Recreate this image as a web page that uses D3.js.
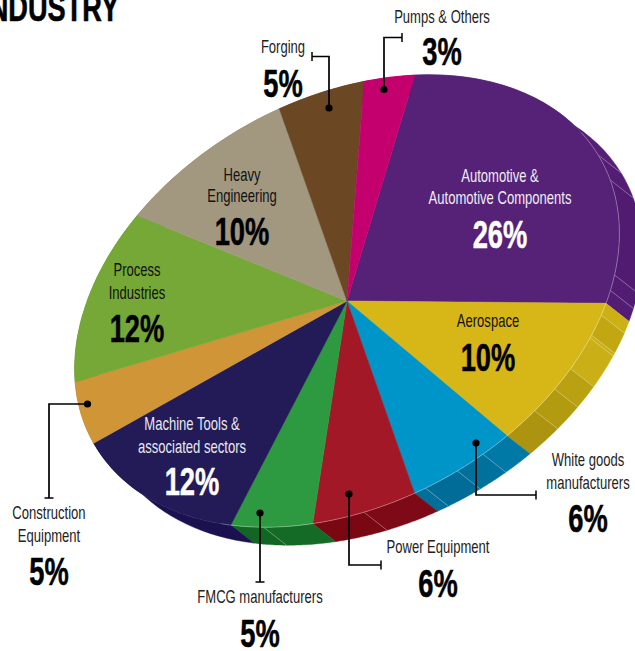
<!DOCTYPE html>
<html>
<head>
<meta charset="utf-8">
<script src="https://cdn.jsdelivr.net/npm/d3@7/dist/d3.min.js"></script>
<style>
html,body{margin:0;padding:0;background:#fff;overflow:hidden}
svg{display:block}
text{font-family:"Liberation Sans",Arial,sans-serif;text-anchor:middle}
</style>
</head>
<body>
<svg id="chart" width="635" height="651"></svg>
<script>
// Industry share of the market, clockwise from the top of the pie
const categories = ["Automotive","Aerospace","White goods","Power Equipment","FMCG","Machine Tools","Construction","Process","Heavy Engineering","Forging","Pumps"];
const shares = [26,10,6,6,5,12,5,12,10,5,3];
const valueLabels = shares.map(d => d + "%");
const faceColors = ["#562278","#d7b717","#0095c8","#a21826","#2d9a42","#221b57","#d09536","#76a837","#a29880","#6b4724","#c4006f"];

// Rim shading: rib positions as a fraction of each slice, and the band colours between them
const ribFractions = [[.564,.648,.923,.965],[.083,.225,.244,.467,.62,.79],[.28,.56,.89],[.5],[.59],[],[],[],[],[],[]];
const bandColors = [
  ["#551f76","#531d73","#511b71","#521c72","#531d73"],
  ["#ccb016","#c2a612","#cbaf16","#cbaf16","#b9a111","#b39b10","#ac9410"],
  ["#0079a6","#00719d","#006c97","#00709b"],
  ["#7f0a17","#790813"],
  ["#136b25","#116624"],
  ["#1c1150"],["#a87820"],["#5e8a2a"],["#857c66"],["#553a1c"],["#9c0058"]
];

// Text placement for each category
const labelLayout = [
  {i:0,x:500,lines:[["Automotive &",182],["Automotive Components",204]],pct:248,fill:"#f1ecf4",pctFill:"#fff"},
  {i:1,x:488,lines:[["Aerospace",327]],pct:371,fill:"#111",pctFill:"#000"},
  {i:2,x:588,lines:[["White goods",466],["manufacturers",489]],pct:532,fill:"#222",pctFill:"#000"},
  {i:3,x:438,lines:[["Power Equipment",553]],pct:597,fill:"#222",pctFill:"#000"},
  {i:4,x:260,lines:[["FMCG manufacturers",603]],pct:647,fill:"#222",pctFill:"#000"},
  {i:5,x:192,lines:[["Machine Tools &",430],["associated sectors",453]],pct:495,fill:"#e9e8f0",pctFill:"#fff"},
  {i:6,x:49,lines:[["Construction",519],["Equipment",542]],pct:585,fill:"#222",pctFill:"#000"},
  {i:7,x:137,lines:[["Process",276],["Industries",299]],pct:342,fill:"#111",pctFill:"#000"},
  {i:8,x:242,lines:[["Heavy",181],["Engineering",202]],pct:245,fill:"#111",pctFill:"#000"},
  {i:9,x:283,lines:[["Forging",53]],pct:97,fill:"#222",pctFill:"#000"},
  {i:10,x:442,lines:[["Pumps & Others",23]],pct:65,fill:"#222",pctFill:"#000"}
];

// Leader lines: dot, elbow path and the end cap direction
const leaders = [
  {pts:[[384,89.5],[384,37.5],[402,37.5]],cap:"v"},
  {pts:[[329,108],[329,56.5],[312,56.5]],cap:"v"},
  {pts:[[87.5,404],[49,404],[49,498]],cap:"h"},
  {pts:[[260,513],[260,582]],cap:"h"},
  {pts:[[349,494],[349,565],[381,565]],cap:"v"},
  {pts:[[476,443],[476,495],[536,495]],cap:"v"}
];

const svg = d3.select("#chart");

// Pie geometry: a unit circle sheared into the tilted ellipse
const cx = 347, cy = 301, depth = [23,18];
const m = {a:259.9, c:-81.6, d:226.2};
const project = (theta, off=[0,0]) => {
  const u = Math.sin(theta), v = -Math.cos(theta);
  return [cx + m.a*u + m.c*v + off[0], cy + m.d*v + off[1]];
};

const startAngle = (-93 + 90) * Math.PI/180;
const pie = d3.pie().sort(null).startAngle(startAngle).endAngle(startAngle + 2*Math.PI);
const slices = pie(shares);

const line = d3.line();

// Rim bands below the top face
const rim = svg.append("g");
slices.forEach((s, i) => {
  const span = s.endAngle - s.startAngle;
  const stops = [0, ...ribFractions[i], 1];
  d3.pairs(stops).forEach(([f0, f1], b) => {
    const a0 = s.startAngle + f0*span, a1 = s.startAngle + f1*span;
    const ts = d3.range(0, 21).map(k => a0 + (a1-a0)*k/20);
    const outline = [...ts.map(t => project(t)), ...ts.slice().reverse().map(t => project(t, depth))];
    rim.append("path").attr("d", line(outline) + "Z")
      .attr("fill", bandColors[i][b]).attr("stroke", bandColors[i][b]).attr("stroke-width", .4);
  });
  ribFractions[i].forEach(f => {
    const t = s.startAngle + f*span;
    const a = project(t), e = project(t, depth);
    rim.append("line").attr("x1",a[0]).attr("y1",a[1]).attr("x2",e[0]).attr("y2",e[1])
      .attr("stroke","#fff").attr("stroke-opacity",.45).attr("stroke-width",.6);
  });
});

// Top face
const arc = d3.arc().innerRadius(0).outerRadius(1);
svg.append("g")
  .attr("transform", `matrix(${m.a},0,${m.c},${m.d},${cx},${cy})`)
  .selectAll("path").data(slices).join("path")
  .attr("d", arc)
  .attr("fill", (d,i) => faceColors[i])
  .attr("stroke", (d,i) => faceColors[i])
  .attr("stroke-width", .5)
  .attr("vector-effect","non-scaling-stroke");

// Pale hairline along the lit edge of the face
const edgeFrom = (-48) * Math.PI/180 + Math.PI/2, edgeTo = (100) * Math.PI/180 + Math.PI/2;
const edgePts = d3.range(0, 121).map(k => project(edgeFrom + (edgeTo-edgeFrom)*k/120));
svg.append("path").attr("d", line(edgePts)).attr("fill","none")
  .attr("stroke","#fff").attr("stroke-opacity",.5).attr("stroke-width",.6);

// Leaders
const lead = svg.append("g");
leaders.forEach(l => {
  lead.append("path").attr("d", line(l.pts)).attr("fill","none").attr("stroke","#000").attr("stroke-width",1.7);
  lead.append("circle").attr("cx",l.pts[0][0]).attr("cy",l.pts[0][1]).attr("r",3.6).attr("fill","#000");
  const [x,y] = l.pts[l.pts.length-1];
  if (l.cap === "v") lead.append("line").attr("x1",x).attr("x2",x).attr("y1",y-4.5).attr("y2",y+4.5).attr("stroke","#000").attr("stroke-width",1.5);
  else lead.append("line").attr("x1",x-4.5).attr("x2",x+4.5).attr("y1",y).attr("y2",y).attr("stroke","#000").attr("stroke-width",1.5);
});

// Labels, condensed horizontally; percentages carry a thin outline for extra weight
const putText = (str, x, y, size, weight, fill, sx) => svg.append("text")
  .attr("transform", `translate(${x},${y}) scale(${sx},1)`)
  .attr("font-size", size).attr("font-weight", weight).attr("fill", fill).text(str);

labelLayout.forEach(l => {
  l.lines.forEach(([str,y]) => putText(str, l.x, y, 18, 400, l.fill, .725));
  putText(valueLabels[l.i], l.x, l.pct, 38.5, 700, l.pctFill, .71)
    .attr("stroke", l.pctFill).attr("stroke-width", .5);
});

// Heading, running off the top-left corner
svg.append("text").attr("transform","translate(119,21) scale(.715,1)")
  .style("text-anchor","end").attr("font-size",38).attr("font-weight",700).attr("fill","#000")
  .attr("stroke","#000").attr("stroke-width",.6).text("INDUSTRY");
</script>
</body>
</html>
